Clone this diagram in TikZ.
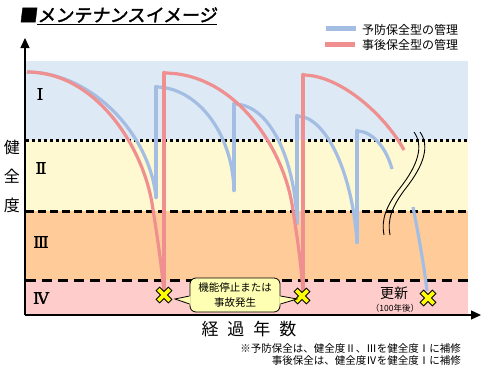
\documentclass[tikz,border=0pt]{standalone}
\usepackage{fontspec}
\usepackage{tikz}
\usetikzlibrary{arrows.meta,positioning}
\newfontfamily\jp{Noto Sans CJK JP}
\newfontfamily\jphead{Noto Sans CJK JP}[FakeSlant=0.12,FakeBold=2]
\newfontfamily\numfont{DejaVu Serif}[FakeBold=1.5]
\definecolor{bandone}{HTML}{DDE9F5}
\definecolor{bandtwo}{HTML}{FFF9D1}
\definecolor{bandthree}{HTML}{FFCC99}
\definecolor{bandfour}{HTML}{FFCCCC}
\definecolor{prevblue}{HTML}{A3BDE3}
\definecolor{postred}{HTML}{F08F8F}
\definecolor{notefill}{HTML}{FFFFB3}
\definecolor{xyellow}{HTML}{FFFF00}

\begin{document}
\begin{tikzpicture}[
  x=1pt, y=-1pt,
  txt/.style={font=\jp\fontsize{#1}{#1}\selectfont, inner sep=0pt},
  head/.style={font=\jphead\fontsize{18}{18}\selectfont, inner sep=0pt},
  lvl/.style={font=\numfont\fontsize{16}{16}\selectfont, inner sep=0pt},
  prev/.style={draw=prevblue, line width=3.2pt},
  post/.style={draw=postred, line width=3.2pt},
  jump/.style={line width=4.5pt, line cap=round},
  xmark/.pic={
    \filldraw[fill=xyellow, draw=black, line width=0.9pt, rotate=45]
      (2.4,2.4) -- (8.6,2.4) -- (8.6,-2.4) -- (2.4,-2.4) -- (2.4,-8.6) -- (-2.4,-8.6)
      -- (-2.4,-2.4) -- (-8.6,-2.4) -- (-8.6,2.4) -- (-2.4,2.4) -- (-2.4,8.6)
      -- (2.4,8.6) -- cycle;
  },
  callout/.style={
    draw, fill=notefill, rounded corners=6pt, line width=0.8pt,
    minimum width=90pt, minimum height=34pt, align=center,
    font=\jp\fontsize{10.5}{14.5}\selectfont
  }
]
  \useasboundingbox (0,0) rectangle (491,378);
  \fill[bandone] (26,61) rectangle (468,140);
  \fill[bandtwo] (26,140) rectangle (468,211);
  \fill[bandthree] (26,211) rectangle (468,280);
  \fill[bandfour] (26,280) rectangle (468,315);
  \draw[line width=3pt, dash pattern=on 3pt off 3pt] (26,140) -- (468,140);
  \draw[line width=3pt, dash pattern=on 8pt off 4pt] (26,211) -- (468,211);
  \draw[line width=3pt, dash pattern=on 10pt off 6pt] (26,280) -- (468,280);

  \foreach \x/\lo/\hi in {156/197/87, 234/190/104, 297/223/116, 357/242/131}
    \draw[prev, jump] (\x,\lo) -- (\x,\hi);
  \draw[prev] (27,72) .. controls (90,72) and (149,132) .. (156,197);
  \draw[prev] (156,87) .. controls (195,87) and (232,130) .. (234,190);
  \draw[prev] (234,104) .. controls (270,104) and (295,160) .. (297,223);
  \draw[prev] (297,116) .. controls (325,116) and (352,170) .. (357,242);
  \draw[prev] (357,131) .. controls (372,131) and (386,147) .. (392,169);
  \draw[prev] (413,207) .. controls (418,232) and (424,265) .. (427,291);

  \foreach \x/\hi in {164/73, 303/75}
    \draw[post, jump] (\x,294) -- (\x,\hi);
  \draw[post] (27,72) .. controls (95,72) and (142,145) .. (152,203)
    .. controls (157,235) and (161,260) .. (164,293);
  \draw[post] (164,73) .. controls (234,73) and (282,146) .. (292,204)
    .. controls (297,236) and (301,261) .. (303,293);
  \draw[post] (303,75) .. controls (340,75) and (385,115) .. (404,150);

  \foreach \dx in {0,6}
    \draw[line width=0.9pt] (414+\dx,132) .. controls (424+\dx,146) and (418+\dx,165) .. (400+\dx,188)
      .. controls (386+\dx,206) and (381+\dx,220) .. (384+\dx,235);

  \coordinate (xa) at (164,295);
  \coordinate (xb) at (302,296);
  \coordinate (xc) at (428,298);
  \foreach \n in {xa,xb,xc}
    \pic at (\n) {xmark};

  \node[callout] (note) at (235,295) {機能停止または\\事故発生};
  \fill[notefill] ([shift={(1,0.8)}]note.west) -- ([shift={(11,4)}]xa) -- ([shift={(1,9.6)}]note.west) -- cycle;
  \draw[line width=0.8pt] ([shift={(0,1)}]note.west) -- ([shift={(11,4)}]xa) -- ([shift={(0,9)}]note.west);
  \fill[notefill] ([shift={(-1,0.8)}]note.east) -- ([shift={(-5,3)}]xb) -- ([shift={(-1,9.6)}]note.east) -- cycle;
  \draw[line width=0.8pt] ([shift={(0,1)}]note.east) -- ([shift={(-5,3)}]xb) -- ([shift={(0,9)}]note.east);

  \coordinate (o) at (25,315);
  \coordinate (ytop) at (25,38);
  \coordinate (xend) at (481,315);
  \draw[line width=1.3pt, -{Triangle[length=10pt,width=9pt]}] (o) -- (ytop);
  \draw[line width=1.3pt, -{Triangle[length=10pt,width=9pt]}] (o) -- (xend);

  \node[head, anchor=west] (sq) at (19,15) {■};
  \node[head, right=0pt of sq] (title) {メンテナンスイメージ};
  \draw[line width=1.2pt] ([yshift=-3pt]title.base west) -- ([yshift=-3pt]title.base east);

  \node[txt=12, anchor=west] (lgprev) at (362,30) {予防保全型の管理};
  \node[txt=12, anchor=west] (lgpost) at (362,45) {事後保全型の管理};
  \draw[prev, line width=5pt] ([shift={(-6,-2)}]lgprev.west) -- ++(-30,0);
  \draw[post, line width=5pt] ([shift={(-7,-1)}]lgpost.west) -- ++(-30,0);

  \foreach \c/\yy/\n in {健/147/ha, 全/176/hb, 度/205/hc}
    \node[txt=16] (\n) at (12,\yy) {\c};
  \foreach \c/\xx/\yy/\n in {Ⅰ/40/94/la, Ⅱ/41/168/lb, Ⅲ/41/242/lc, Ⅳ/41/298/ld}
    \node[lvl] (\n) at (\xx,\yy) {\c};

  \node[txt=17] (xlab) at (249,329) {経\hspace{9pt}過\hspace{9pt}年\hspace{9pt}数};
  \node[txt=14] (renew) at (394,293) {更新};
  \node[txt=8.5] (renewyr) at (395,308) {（100年後）};
  \node[txt=10.5, anchor=east] (nta) at (461,349) {※予防保全は、健全度Ⅱ、Ⅲを健全度Ⅰに補修};
  \node[txt=10.5, anchor=east] (ntb) at (461,361) {事後保全は、健全度Ⅳを健全度Ⅰに補修};
\end{tikzpicture}
\end{document}
